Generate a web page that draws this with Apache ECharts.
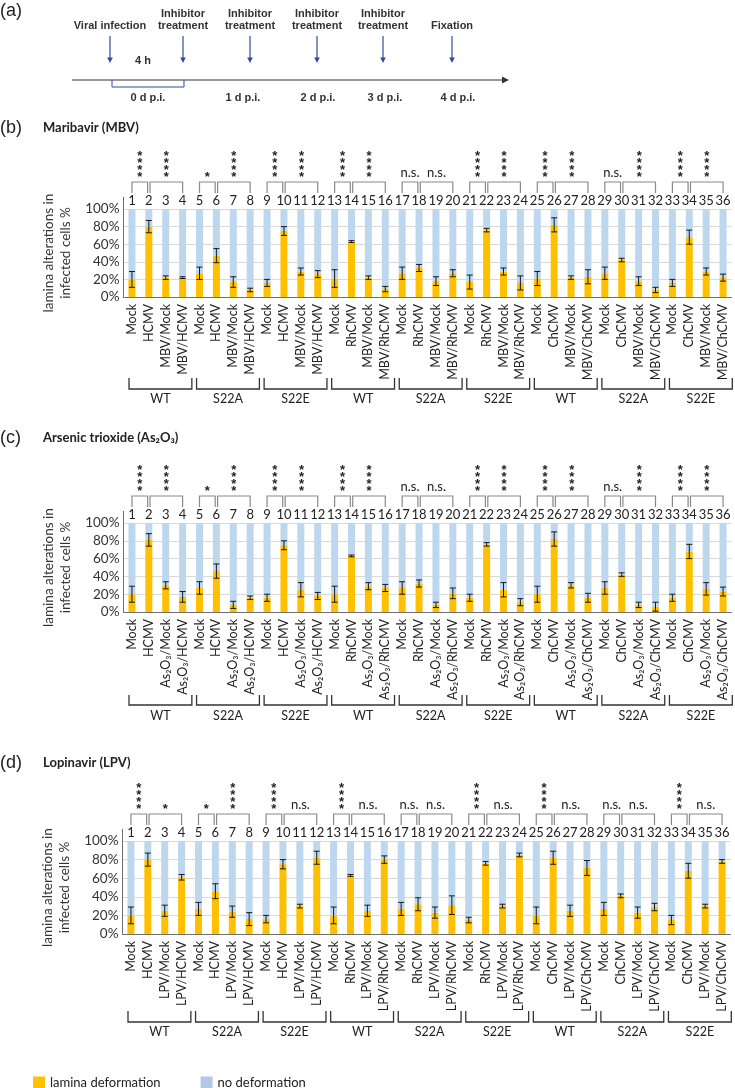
<!DOCTYPE html>
<html>
<head>
<meta charset="utf-8">
<title>lamina alterations</title>
<script src="https://cdn.jsdelivr.net/npm/echarts@6/dist/echarts.min.js"></script>
<style>
html,body{margin:0;padding:0;background:#fff;}
#main{width:735px;height:1088px;}
</style>
</head>
<body>
<div id="main"></div>
<script>
// numbers printed above the bars
var barNumbers = [];
for (var n = 1; n <= 36; n++) barNumbers.push(String(n));

var viruses = ['HCMV', 'RhCMV', 'ChCMV'];
var strains = ['WT', 'S22A', 'S22E', 'WT', 'S22A', 'S22E', 'WT', 'S22A', 'S22E'];

// % cells with lamina deformation (mean) and error, bars 1-36
var mbvMean = [20, 80, 22, 22, 27, 47, 17, 8, 16, 75, 29, 26, 21, 63, 22, 9, 27, 33, 18, 27, 17, 76, 29, 16, 21, 82, 22, 23, 27, 42, 18, 8, 16, 68, 29, 22];
var mbvErr  = [9, 7, 2, 1, 7, 8, 6, 2, 4, 5, 4, 4, 10, 1, 2, 3, 7, 4, 5, 4, 8, 2, 4, 8, 8, 8, 2, 8, 7, 2, 5, 3, 4, 8, 4, 4];
var mbvSig  = ['****', '****', '*', '****', '****', '****', '****', '****', 'n.s.', 'n.s.', '****', '****', '****', '****', 'n.s.', '****', '****', '****'];

var asMean = [20, 81, 30, 17, 27, 46, 8, 16, 16, 75, 25, 18, 20, 63, 29, 27, 27, 32, 8, 21, 16, 76, 25, 11, 20, 82, 30, 16, 27, 42, 8, 6, 16, 68, 26, 23];
var asErr  = [9, 7, 4, 6, 7, 8, 4, 2, 4, 5, 8, 4, 9, 1, 4, 4, 7, 4, 3, 6, 4, 2, 8, 4, 9, 8, 3, 5, 7, 2, 3, 5, 4, 8, 7, 5];
var asSig  = ['****', '****', '*', '****', '****', '****', '****', '****', 'n.s.', 'n.s.', '****', '****', '****', '****', 'n.s.', '****', '****', '****'];

var lpvMean = [20, 80, 25, 61, 27, 46, 24, 16, 16, 75, 30, 82, 20, 63, 25, 80, 27, 32, 23, 31, 15, 76, 30, 85, 20, 82, 25, 71, 27, 41, 23, 29, 15, 68, 30, 78];
var lpvErr  = [9, 7, 6, 3, 7, 8, 6, 7, 4, 5, 2, 7, 9, 1, 6, 4, 7, 7, 6, 10, 3, 2, 2, 2, 9, 7, 6, 8, 7, 2, 6, 4, 5, 8, 2, 2];
var lpvSig  = ['****', '*', '*', '****', '****', 'n.s.', '****', 'n.s.', 'n.s.', 'n.s.', '****', 'n.s.', '****', 'n.s.', 'n.s.', 'n.s.', '****', 'n.s.'];

var ORANGE = '#FFC000', BLUE = '#BDD7EE', NAVY = '#2f4b9c';
var FONT = 'Lato';

function categories(drug) {
    var out = [];
    viruses.forEach(function (v) {
        for (var s = 0; s < 3; s++) out.push('Mock', v, drug + '/Mock', drug + '/' + v);
    });
    return out;
}

var panels = [
    {drug: 'MBV', mean: mbvMean, err: mbvErr, sig: mbvSig,
     grid: {left: 123.5, top: 209, width: 608, height: 88}, low: [81, 92, 102]},
    {drug: 'As\u2082O\u2083', mean: asMean, err: asErr, sig: asSig,
     grid: {left: 123.5, top: 523, width: 608, height: 89}, low: [83, 93, 104]},
    {drug: 'LPV', mean: lpvMean, err: lpvErr, sig: lpvSig,
     grid: {left: 122.5, top: 841, width: 608, height: 93}, low: [77, 88, 98]}
];

var pairs = [], spans = [];
for (var g = 0; g < 9; g++) {
    pairs.push([4 * g, 4 * g + 1], [4 * g + 1, 4 * g + 3]);
    spans.push([4 * g, 4 * g + 3]);
}

function txt(t, x, y, font, color, align) {
    return {type: 'text', style: {text: t, x: x, y: y, font: font, fill: color || '#222',
        textAlign: align || 'center', textVerticalAlign: 'middle'}};
}

var grids = [], xAxes = [], yAxes = [], series = [];

panels.forEach(function (p, k) {
    grids.push(p.grid);
    xAxes.push({
        gridIndex: k, type: 'category', data: categories(p.drug), position: 'bottom',
        axisLine: {lineStyle: {color: '#6f6f6f'}}, axisTick: {show: false},
        axisLabel: {rotate: 90, interval: 0, fontSize: 12.5, fontFamily: FONT, color: '#222', margin: 7}
    });
    xAxes.push({
        gridIndex: k, type: 'category', data: barNumbers, position: 'top',
        axisLine: {show: false}, axisTick: {show: false},
        axisLabel: {interval: 0, fontSize: 13, fontFamily: FONT, color: '#222', margin: 2}
    });
    yAxes.push({
        gridIndex: k, type: 'value', min: 0, max: 100, interval: 20,
        axisLine: {show: false}, axisTick: {show: false},
        axisLabel: {formatter: '{value}%', fontSize: 13.5, fontFamily: FONT, color: '#333', margin: 4},
        splitLine: {lineStyle: {color: '#d9d9d9'}},
        name: 'lamina alterations in\ninfected cells %', nameLocation: 'middle', nameGap: 38,
        nameTextStyle: {fontSize: 13.5, fontFamily: FONT, color: '#333', lineHeight: 17}
    });

    series.push({
        name: 'lamina deformation', type: 'bar', xAxisIndex: 2 * k, yAxisIndex: k,
        stack: 'p' + k, barWidth: 7, itemStyle: {color: ORANGE}, data: p.mean
    });
    series.push({
        name: 'no deformation', type: 'bar', xAxisIndex: 2 * k, yAxisIndex: k,
        stack: 'p' + k, barWidth: 7, itemStyle: {color: BLUE},
        data: p.mean.map(function (v) { return 100 - v; })
    });
    // error bars
    series.push({
        type: 'custom', xAxisIndex: 2 * k, yAxisIndex: k, z: 5,
        encode: {x: 0, y: 1},
        data: p.mean.map(function (v, i) { return [i, v, p.err[i]]; }),
        renderItem: function (params, api) {
            var i = api.value(0), m = api.value(1), e = api.value(2);
            var hi = api.coord([i, m + e]), lo = api.coord([i, Math.max(0, m - e)]);
            var st = {stroke: '#1a1a1a', lineWidth: 1};
            return {type: 'group', children: [
                {type: 'line', shape: {x1: hi[0], y1: hi[1], x2: lo[0], y2: lo[1]}, style: st},
                {type: 'line', shape: {x1: hi[0] - 3, y1: hi[1], x2: hi[0] + 3, y2: hi[1]}, style: st},
                {type: 'line', shape: {x1: lo[0] - 3, y1: lo[1], x2: lo[0] + 3, y2: lo[1]}, style: st}
            ]};
        }
    });
    // significance brackets above the numbers (+ y axis line)
    series.push({
        type: 'custom', xAxisIndex: 2 * k, yAxisIndex: k, z: 5,
        encode: {x: [0, 1]},
        data: pairs,
        renderItem: function (params, api) {
            var i = api.value(0), j = api.value(1);
            var a = api.coord([i, 100]), b = api.coord([j, 100]);
            var top = a[1] - 27, bot = a[1] - 16;
            var l = a[0] + (i % 4 === 1 ? 1.2 : 0), r = b[0] - (j % 4 === 1 ? 1.2 : 0);
            var kids = [{type: 'polyline', shape: {points: [[l, bot], [l, top], [r, top], [r, bot]]},
                style: {stroke: '#8a8a8a', lineWidth: 1.2, fill: null}}];
            var lab = p.sig[params.dataIndex], cx = (l + r) / 2;
            var starFont = 'bold 13px "Liberation Sans"';
            if (lab === '****') {
                for (var s = 0; s < 4; s++) kids.push(txt('*', cx, top - 5 - s * 6.7, starFont, '#222'));
            } else if (lab === '*') {
                kids.push(txt('*', cx, top - 5, starFont, '#222'));
            } else {
                kids.push(txt(lab, cx, top - 9, '13px ' + FONT, '#222'));
            }
            if (params.dataIndex === 0) {
                var bw = api.size([1, 0])[0];
                var z0 = api.coord([0, 0]);
                kids.push({type: 'line', shape: {x1: z0[0] - bw / 2, y1: z0[1], x2: z0[0] - bw / 2, y2: a[1] - 12},
                    style: {stroke: '#6f6f6f', lineWidth: 1}});
            }
            return {type: 'group', children: kids};
        }
    });
    // strain brackets below the labels
    series.push({
        type: 'custom', xAxisIndex: 2 * k, yAxisIndex: k, z: 5,
        encode: {x: [0, 1]},
        data: spans,
        renderItem: function (params, api) {
            var bw = api.size([1, 0])[0];
            var a = api.coord([api.value(0), 0]), b = api.coord([api.value(1), 0]);
            var x1 = a[0] - bw / 2 + 5.5, x2 = b[0] + bw / 2 + 0.8, y0 = a[1];
            return {type: 'group', children: [
                {type: 'polyline', shape: {points: [[x1, y0 + p.low[0]], [x1, y0 + p.low[1]], [x2, y0 + p.low[1]], [x2, y0 + p.low[0]]]},
                    style: {stroke: '#333', lineWidth: 1.3, fill: null}},
                txt(strains[params.dataIndex], (x1 + x2) / 2, y0 + p.low[2], '12.5px ' + FONT, '#222')
            ]};
        }
    });
});

// panel (a): time line of the experiment
var events = [
    {x: 110, lines: ['Viral infection']},
    {x: 183, lines: ['Inhibitor', 'treatment']},
    {x: 250, lines: ['Inhibitor', 'treatment']},
    {x: 317, lines: ['Inhibitor', 'treatment']},
    {x: 383, lines: ['Inhibitor', 'treatment']},
    {x: 452, lines: ['Fixation']}
];
var days = [['0 d p.i.', 148], ['1 d p.i.', 243], ['2 d p.i.', 318], ['3 d p.i.', 385], ['4 d p.i.', 458]];
var AFONT = 'bold 11px "Liberation Sans"';

var graphics = [
    txt('(a)', 0, 11, '18px "Liberation Sans"', '#222', 'left'),
    {type: 'line', shape: {x1: 72, y1: 80, x2: 503, y2: 80}, style: {stroke: '#333', lineWidth: 1}},
    {type: 'polygon', shape: {points: [[502, 76.5], [509, 80], [502, 83.5]]}, style: {fill: '#333'}},
    {type: 'polyline', shape: {points: [[112, 80], [112, 87], [184, 87], [184, 80]]}, style: {stroke: NAVY, lineWidth: 1, fill: null}},
    txt('4 h', 143, 61, AFONT, '#333'),
    txt('(b)', 0, 128, '18px "Liberation Sans"', '#222', 'left'),
    txt('Maribavir (MBV)', 43, 128, 'bold 13px ' + FONT, '#222', 'left'),
    txt('(c)', 0, 438, '18px "Liberation Sans"', '#222', 'left'),
    txt('Arsenic trioxide (As\u2082O\u2083)', 43, 438, 'bold 13px ' + FONT, '#222', 'left'),
    txt('(d)', 0, 763, '18px "Liberation Sans"', '#222', 'left'),
    txt('Lopinavir (LPV)', 43, 763, 'bold 13px ' + FONT, '#222', 'left')
];
events.forEach(function (ev) {
    if (ev.lines.length === 2) {
        graphics.push(txt(ev.lines[0], ev.x, 14, AFONT, '#333'), txt(ev.lines[1], ev.x, 26, AFONT, '#333'));
    } else {
        graphics.push(txt(ev.lines[0], ev.x, 26, AFONT, '#333'));
    }
    graphics.push({type: 'line', shape: {x1: ev.x, y1: 36, x2: ev.x, y2: 61}, style: {stroke: NAVY, lineWidth: 1.2}});
    graphics.push({type: 'polygon', shape: {points: [[ev.x - 2.8, 57.5], [ev.x + 2.8, 57.5], [ev.x, 63]]}, style: {fill: NAVY}});
});
days.forEach(function (d) { graphics.push(txt(d[0], d[1], 98, AFONT, '#333')); });

var chart = echarts.init(document.getElementById('main'));
chart.setOption({
    animation: false,
    backgroundColor: '#fff',
    textStyle: {fontFamily: FONT},
    grid: grids,
    xAxis: xAxes,
    yAxis: yAxes,
    series: series,
    legend: {
        left: 28, top: 1071, icon: 'rect', itemWidth: 12, itemHeight: 12, itemGap: 40,
        textStyle: {fontSize: 13, fontFamily: FONT, color: '#222'},
        data: [{name: 'lamina deformation', itemStyle: {color: ORANGE}},
               {name: 'no deformation', itemStyle: {color: '#B4C7E7'}}]
    },
    graphic: graphics
});
</script>
</body>
</html>
